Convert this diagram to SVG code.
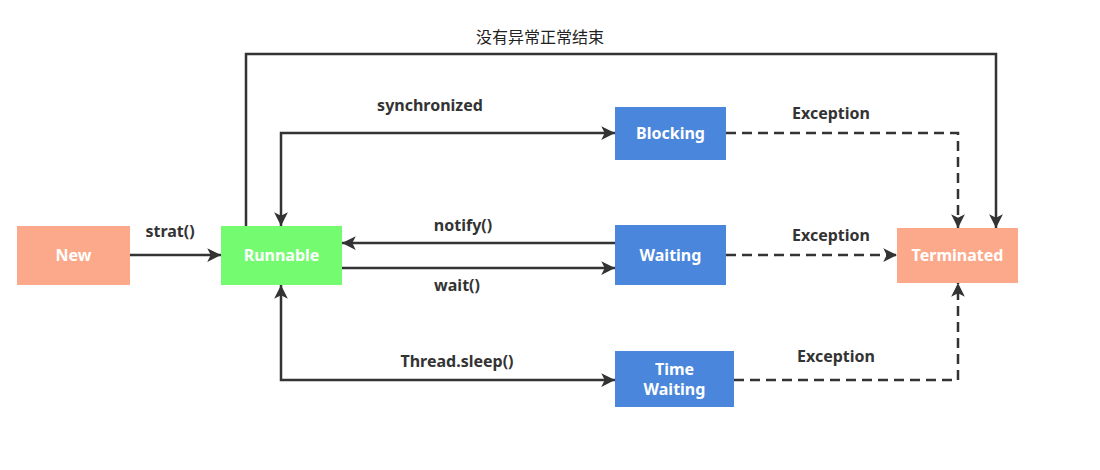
<svg xmlns="http://www.w3.org/2000/svg" width="1100" height="470" viewBox="0 0 1100 470">
<style>
.lbl{font-family:"Microsoft YaHei","Noto Sans","Liberation Sans",sans-serif;font-weight:bold;font-size:16px;fill:#333;text-anchor:middle}
.cjk{font-family:"Noto Sans CJK SC",sans-serif;font-size:16px;fill:#222;text-anchor:middle}
.nt{font-family:"Noto Sans","Liberation Sans",sans-serif;font-weight:bold;font-size:16px;fill:#fff;text-anchor:middle}
.ln{fill:none;stroke:#333;stroke-width:2.5}
.dl{fill:none;stroke:#333;stroke-width:2.5;stroke-dasharray:10 6}
</style>
<defs>
<marker id="ah" viewBox="0 0 10 10" refX="10" refY="5" markerWidth="5.5" markerHeight="5.5" orient="auto-start-reverse" markerUnits="strokeWidth">
<path d="M0,0 L10,5 L0,10 L2.5,5 Z" fill="#333"/>
</marker>
</defs>
<rect width="1100" height="470" fill="#fff"/>
<g id="connectors">
<path class="ln" d="M130,255 L221,255" stroke-width="3" marker-end="url(#ah)"/>
<path class="ln" d="M246,226 L246,54 L996,54 L996,228" marker-end="url(#ah)"/>
<path class="ln" d="M281,226 L281,133 L615,133" marker-start="url(#ah)" marker-end="url(#ah)"/>
<path class="ln" d="M615,243 L342,243" marker-end="url(#ah)"/>
<path class="ln" d="M342,268 L615,268" marker-end="url(#ah)"/>
<path class="ln" d="M281,285 L281,380 L615,380" marker-start="url(#ah)" marker-end="url(#ah)"/>
<path class="dl" d="M726,133 L958,133 L958,228" marker-end="url(#ah)"/>
<path class="dl" d="M726,255 L897,255" marker-end="url(#ah)"/>
<path class="dl" d="M734,380 L958,380 L958,283" marker-end="url(#ah)"/>
<text class="cjk" x="540" y="43">没有异常正常结束</text>
<text class="lbl" x="430" y="111">synchronized</text>
<text class="lbl" x="170" y="237">strat()</text>
<text class="lbl" x="463" y="231">notify()</text>
<text class="lbl" x="457" y="291">wait()</text>
<text class="lbl" x="457" y="367">Thread.sleep()</text>
<text class="lbl" x="831" y="119">Exception</text>
<text class="lbl" x="831" y="241">Exception</text>
<text class="lbl" x="836" y="362">Exception</text>
</g>
<g id="new"><rect x="17" y="226" width="113" height="59" fill="#fca98b"/><text class="nt" x="73.5" y="261">New</text></g>
<g id="runnable"><rect x="221" y="226" width="121" height="59" fill="#74fb70"/><text class="nt" x="281.5" y="261">Runnable</text></g>
<g id="blocking"><rect x="615" y="107" width="111" height="53" fill="#4a86dc"/><text class="nt" x="670.5" y="139">Blocking</text></g>
<g id="waiting"><rect x="615" y="225" width="111" height="60" fill="#4a86dc"/><text class="nt" x="670.5" y="261">Waiting</text></g>
<g id="timewaiting"><rect x="615" y="351" width="119" height="56" fill="#4a86dc"/><text class="nt" x="674.5" y="375">Time</text><text class="nt" x="674.5" y="395">Waiting</text></g>
<g id="terminated"><rect x="897" y="228" width="121" height="55" fill="#fca98b"/><text class="nt" x="957.5" y="261">Terminated</text></g>
</svg>
